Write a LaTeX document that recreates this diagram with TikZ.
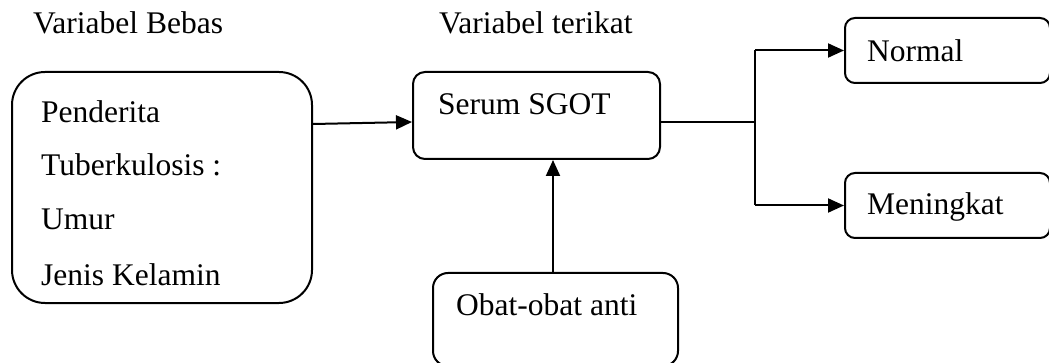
\documentclass[tikz,border=0pt]{standalone}
\usepackage{fontspec}
\setmainfont{Liberation Serif}
\usetikzlibrary{arrows.meta}
\begin{document}
\begin{tikzpicture}[x=1pt,y=-1pt,
  box/.style={draw, line width=2pt, rounded corners=#1, inner sep=0pt},
  box/.default=12pt,
  txt/.style={anchor=base west, inner sep=0pt, font=\fontsize{31.5}{38}\selectfont},
  conn/.style={line width=2pt},
  arr/.style={line width=2pt, -{Triangle[length=16pt,width=14pt]}}]
\clip (0,0) rectangle (1049,363);
% boxes
\node[box=33pt, minimum width=300pt, minimum height=231pt] (lb) at (162,187.5) {};
\node[box=12pt, minimum width=247pt, minimum height=87pt] (sg) at (536.5,115.5) {};
\node[box=15pt, minimum width=245pt, minimum height=93pt] (ob) at (555.5,319.5) {};
\node[box=10pt, minimum width=205pt, minimum height=65pt] (nm) at (947.5,50.5) {};
\node[box=10pt, minimum width=205pt, minimum height=65pt] (mk) at (947.5,205.5) {};
% texts
\node[txt] (h1) at (33,34) {Variabel Bebas};
\node[txt] (h2) at (439,34) {Variabel terikat};
\node[txt] (t1) at (41,123) {Penderita};
\node[txt] (t2) at (41,176) {Tuberkulosis :};
\node[txt] (t3) at (41,230) {Umur};
\node[txt] (t4) at (41,285) {Jenis Kelamin};
\node[txt] (t5) at (438,115) {Serum SGOT};
\node[txt] (t6) at (456,315) {Obat-obat anti};
\node[txt] (t7) at (867,62) {Normal};
\node[txt] (t8) at (867,215) {Meningkat};
% connectors
\coordinate (j) at (755,122);
\draw[arr] (lb.east |- 0,124) -- (sg.west |- 0,122);
\draw[arr] (ob.north -| 553,0) -- (sg.south -| 553,0);
\draw[conn] (sg.east |- j) -- (j);
\draw[conn] (j |- nm.west) -- (j |- mk.west);
\draw[arr] (j |- nm.west) -- (nm.west);
\draw[arr] (j |- mk.west) -- (mk.west);
\end{tikzpicture}
\end{document}
